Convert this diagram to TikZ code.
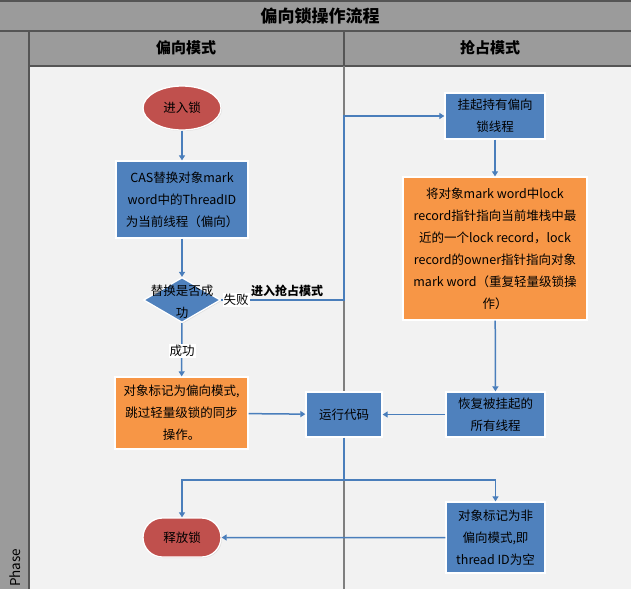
\documentclass[tikz,border=0pt]{standalone}
\usepackage{fontspec}
\setmainfont{Noto Sans CJK SC}
\usetikzlibrary{shapes.geometric,shapes.misc,arrows.meta,shadows}

\definecolor{lanegray}{HTML}{9B9B9B}
\definecolor{lanerule}{HTML}{555555}
\definecolor{lanebody}{HTML}{F2F2F2}
\definecolor{divgray}{HTML}{7F7F7F}
\definecolor{procblue}{HTML}{4F81BD}
\definecolor{termred}{HTML}{C0504D}
\definecolor{noteorange}{HTML}{F79646}
\definecolor{flowblue}{HTML}{4A7EBB}

\tikzset{
  boxtext/.style={font=\fontsize{12.5}{22}\selectfont, text=black, align=center},
  shapebase/.style={draw=white, line width=1.3pt,
    drop shadow={opacity=0.18, shadow xshift=1pt, shadow yshift=-1pt}},
  procbox/.style={shapebase, boxtext, fill=procblue, rectangle, inner sep=0pt},
  notebox/.style={shapebase, boxtext, fill=noteorange, rectangle, inner sep=0pt},
  terminal/.style={shapebase, boxtext, fill=termred},
  decision/.style={shapebase, fill=procblue, diamond, inner sep=0pt},
  flow/.style={draw=flowblue, line width=1.5pt, -{Triangle[length=5pt,width=6pt]}},
  flowline/.style={draw=flowblue, line width=1.5pt},
  edgelabel/.style={fill=white, inner sep=1pt, font=\fontsize{12.5}{14}\selectfont},
  laneheader/.style={font=\fontsize{15}{18}\selectfont\bfseries},
}

\begin{document}
\begin{tikzpicture}[x=1pt, y=-1pt]
\useasboundingbox (0,0) rectangle (631,589);

% swimlane frame
\fill[lanegray] (0,0) rectangle (631,589);
\fill[lanebody] (29,66) rectangle (631,589);
\draw[lanerule, line width=1.5pt] (0,0.75) -- (631,0.75);
\draw[lanerule, line width=1.5pt] (0,31) -- (631,31);
\draw[lanerule, line width=1.5pt] (29,66) -- (631,66);
\draw[lanerule, line width=1.5pt] (29,31) -- (29,589);
\draw[lanerule, line width=1.5pt] (344,31) -- (344,66);
\draw[divgray, line width=1.5pt] (344,66) -- (344,589);

\node[font=\fontsize{17}{20}\selectfont\bfseries] (title) at (320,16) {偏向锁操作流程};
\node[laneheader] (laneA) at (186,48) {偏向模式};
\node[laneheader] (laneB) at (490,48) {抢占模式};
\node[rotate=90, font=\fontsize{13.5}{15}\selectfont, anchor=west, inner sep=0pt] (phase) at (15,587) {Phase};

% flow shapes
\node[terminal, ellipse, minimum width=78pt, minimum height=44pt, inner sep=0pt] (enter) at (182,108) {进入锁};
\node[procbox, minimum width=132pt, minimum height=77pt] (cas) at (182,199.5)
  {CAS替换对象mark\\word中的ThreadID\\为当前线程（偏向）};
\node[decision, minimum width=77pt, minimum height=45pt] (check) at (182,300) {};
\node[boxtext] (checktext) at (182,302) {替换是否成\\功};
\node[notebox, minimum width=133pt, minimum height=72pt] (markbias) at (181.5,413)
  {对象标记为偏向模式,\\跳过轻量级锁的同步\\操作。};
\node[procbox, minimum width=76pt, minimum height=45pt] (run) at (344,414.5) {运行代码};
\node[procbox, minimum width=100pt, minimum height=46pt] (hang) at (495,116) {挂起持有偏向\\锁线程};
\node[notebox, minimum width=184pt, minimum height=143pt] (lockrec) at (495,248.5)
  {将对象mark word中lock\\record指针指向当前堆栈中最\\近的一个lock record，lock\\record的owner指针指向对象\\mark word（重复轻量级锁操\\作）};
\node[procbox, minimum width=99pt, minimum height=45pt] (resume) at (495.5,414.5) {恢复被挂起的\\所有线程};
\node[procbox, minimum width=99pt, minimum height=71pt] (nonbias) at (495.5,537.5)
  {对象标记为非\\偏向模式,即\\thread ID为空};
\node[terminal, rounded rectangle, minimum width=78pt, minimum height=39pt, inner sep=0pt] (release) at (182,537.5) {释放锁};

% connectors
\coordinate (failturn) at (344,300);
\coordinate (split) at (344,480);
\draw[flow] (enter) -- (cas);
\draw[flow] (cas) -- (check);
\draw[flow] (check.east) -- (failturn) |- (hang.west);
\draw[flow] (check) -- (markbias);
\draw[flow] (markbias) -- (run);
\draw[flow] (resume) -- (run);
\draw[flow] (hang) -- (lockrec);
\draw[flow] (lockrec) -- (resume);
\draw[flowline] (run) -- (split);
\draw[flow] (split) -| (release.north);
\draw[flow] (split) -| (nonbias.north);
\draw[flow] (nonbias) -- (release);

% connector labels
\node[edgelabel] (failtag) at (236,300) {失败};
\node[font=\fontsize{12}{14}\selectfont\bfseries] (preempt) at (287,291) {进入抢占模式};
\node[edgelabel] (oktag) at (182,351) {成功};
\end{tikzpicture}
\end{document}
